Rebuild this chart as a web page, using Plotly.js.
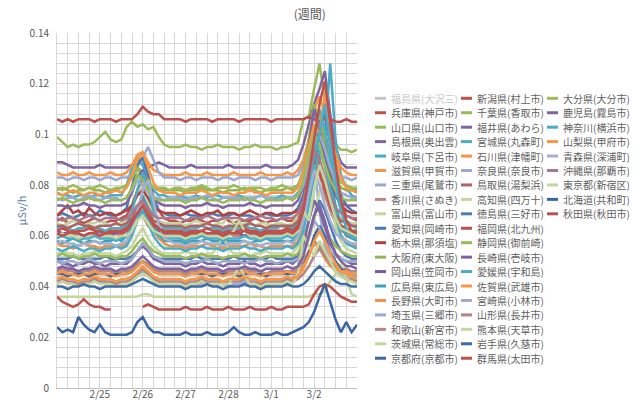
<!DOCTYPE html>
<html><head><meta charset="utf-8">
<script src="https://cdn.plot.ly/plotly-3.0.1.min.js"></script>
<style>html,body{margin:0;padding:0;background:#fff}#chart{width:640px;height:400px}</style>
</head><body><div id="chart"></div>
<script>
// hours since 2/24 00:00 (3-hourly readings)
const hours = [0,3,6,9,12,15,18,21,24,27,30,33,36,39,42,45,48,51,54,57,60,63,66,69,72,75,78,81,84,87,90,93,96,99,102,105,108,111,114,117,120,123,126,129,132,135,138,141,144,147,150,153,156,159,162,165,168];
const tickHours = [24,48,72,96,120,144];
const tickLabels = ['2/25','2/26','2/27','2/28','3/1','3/2'];

const names = ['福島県(大沢三)','兵庫県(神戸市)','山口県(山口市)','島根県(奥出雲)','岐阜県(下呂市)','滋賀県(甲賀市)','三重県(尾鷲市)','香川県(さぬき)','富山県(富山市)','愛知県(岡崎市)','栃木県(那須塩)','大阪府(東大阪)','岡山県(笠岡市)','広島県(東広島)','長野県(大町市)','埼玉県(三郷市)','和歌山(新宮市)','茨城県(常総市)','京都府(京都市)','新潟県(村上市)','千葉県(香取市)','福井県(あわら)','宮城県(丸森町)','石川県(津幡町)','奈良県(奈良市)','鳥取県(湯梨浜)','高知県(四万十)','徳島県(三好市)','福岡県(北九州)','静岡県(御前崎)','長崎県(壱岐市)','愛媛県(宇和島)','佐賀県(武雄市)','宮崎県(小林市)','山形県(長井市)','熊本県(天草市)','岩手県(久慈市)','群馬県(太田市)','大分県(大分市)','鹿児島(霧島市)','神奈川(横浜市)','山梨県(甲府市)','青森県(深浦町)','沖縄県(那覇市)','東京都(新宿区)','北海道(共和町)','秋田県(秋田市)'];

const colors = ['#C4C4C4','#C0504D','#9BBB59','#8064A2','#4BACC6','#F79646','#9AA8D4','#BE8584','#C3D69B','#4A78B0','#B0413E','#94B456','#765C9C','#40A0BA','#F0904A','#9BADD5','#B48684','#C3D69B','#41679A','#C0504D','#9BBB59','#8064A2','#4BACC6','#F79646','#9AAAD3','#B06362','#C3D69B','#4F7BB5','#C0504D','#9BBB59','#8064A2','#4BACC6','#F79646','#9CABC9','#B28685','#C3D69B','#3F6CA5','#C0504D','#9BBB59','#8064A2','#4BACC6','#F79646','#A3B0D2','#A67A8C','#C3D69B','#3A64A8','#C0504D'];

// μSv/h readings
const fukushima = null; // series hidden in the chart (greyed legend entry)
const hyogo = [.066,.067,.065,.066,.066,.065,.066,.067,.066,.065,.066,.066,.067,
.068,.072,.078,.083,.080,.074,.070,.067,.066,
.066,.065,.066,.066,.067,.066,.065,.066,.066,.067,.066,.065,.066,.066,.066,.067,.066,.065,.066,.066,.067,.066,.066,
.068,.075,.088,.100,.108,.098,.088,.078,.072,.068,.067,
.066];
const yamaguchi = [.099,.097,.095,.096,.095,.096,.096,.097,.099,.101,.098,.097,.098,
.103,.105,.103,.104,.102,.103,.099,.096,.095,
.095,.095,.096,.095,.095,.094,.095,.095,.096,.095,.095,.095,.094,.095,.095,.096,.095,.095,.095,.094,.095,.095,.096,
.097,.106,.107,.118,.128,.113,.100,.096,.094,.094,.093,
.094];
const shimane = [.089,.089,.088,.087,.087,.087,.087,.087,.088,.087,.087,.087,.087,
.087,.088,.090,.088,.087,.088,.089,.088,.087,
.087,.087,.087,.088,.087,.087,.087,.087,.087,.087,.088,.087,.087,.087,.087,.087,.087,.088,.087,.087,.087,.087,.088,
.090,.096,.104,.112,.118,.125,.108,.095,.089,.087,.087,
.087];
const gifu = [.077,.076,.076,.075,.076,.076,.075,.076,.076,.075,.076,.076,.076,
.080,.087,.091,.088,.082,.078,.076,.076,.075,
.075,.076,.075,.075,.076,.075,.075,.076,.076,.075,.075,.075,.076,.075,.075,.075,.076,.075,.075,.075,.076,.075,.075,
.077,.080,.088,.095,.090,.098,.128,.098,.084,.079,.076,
.075];
const shiga = [.085,.084,.084,.085,.084,.084,.085,.084,.084,.084,.085,.084,.084,
.085,.088,.092,.093,.089,.086,.085,.084,.084,
.084,.084,.085,.084,.084,.084,.085,.084,.084,.084,.084,.085,.084,.084,.084,.084,.085,.084,.084,.084,.084,.085,.084,
.086,.090,.098,.110,.115,.108,.100,.092,.087,.085,.084,
.084];
const mie = [.083,.083,.082,.083,.083,.082,.083,.083,.082,.083,.083,.082,.083,
.083,.084,.087,.091,.095,.090,.085,.083,.083,
.083,.082,.083,.083,.082,.083,.083,.083,.082,.083,.083,.082,.083,.083,.083,.082,.083,.083,.082,.083,.083,.083,.083,
.084,.088,.095,.102,.098,.092,.088,.085,.083,.083,.082,
.083];
const kagawa = [.060,.061,.060,.060,.061,.060,.060,.060,.061,.060,.060,.061,.060,
.062,.065,.069,.068,.064,.062,.061,.060,.060,
.060,.060,.061,.060,.060,.060,.061,.060,.060,.060,.061,.060,.060,.060,.060,.061,.060,.060,.060,.060,.061,.060,.060,
.062,.068,.078,.090,.084,.076,.070,.065,.062,.061,.060,
.060];
const toyama = [.065,.064,.065,.066,.065,.064,.065,.065,.066,.065,.064,.065,.065,
.066,.070,.076,.080,.074,.068,.066,.065,.065,
.065,.065,.064,.065,.066,.065,.065,.064,.065,.065,.068,.065,.064,.065,.065,.064,.065,.065,.064,.065,.065,.064,.065,
.068,.078,.098,.110,.096,.085,.076,.070,.067,.066,.065,
.065];
const aichi = [.068,.069,.068,.067,.068,.069,.068,.068,.070,.069,.068,.068,.069,
.071,.079,.088,.091,.084,.075,.070,.069,.068,
.068,.068,.069,.068,.068,.067,.068,.069,.068,.068,.068,.069,.068,.068,.068,.067,.068,.069,.068,.068,.068,.068,.069,
.071,.076,.086,.094,.102,.108,.096,.084,.076,.072,.070,
.069];
const tochigi = [.068,.070,.072,.069,.070,.068,.071,.069,.068,.069,.069,.068,.069,
.070,.072,.076,.078,.075,.071,.070,.069,.069,
.069,.068,.069,.070,.069,.068,.069,.069,.070,.068,.069,.069,.068,.069,.070,.069,.068,.069,.069,.068,.069,.069,.069,
.070,.073,.082,.092,.098,.092,.084,.076,.072,.070,.069,
.069];
const osaka = [.078,.079,.078,.077,.078,.078,.079,.078,.078,.077,.078,.078,.079,
.080,.084,.087,.085,.082,.079,.078,.078,.078,
.078,.078,.077,.078,.078,.079,.078,.078,.078,.077,.078,.078,.078,.079,.078,.078,.077,.078,.078,.078,.078,.079,.078,
.080,.086,.098,.112,.105,.095,.088,.082,.079,.078,.078,
.078];
const okayama = [.062,.061,.061,.062,.061,.060,.061,.061,.062,.061,.061,.061,.062,
.063,.066,.071,.069,.066,.063,.062,.061,.061,
.061,.061,.062,.061,.061,.060,.061,.061,.061,.062,.061,.061,.061,.060,.061,.061,.062,.061,.061,.061,.060,.061,.061,
.064,.074,.088,.098,.090,.080,.072,.066,.063,.062,.061,
.061];
const hiroshima = [.058,.057,.058,.059,.058,.057,.058,.058,.057,.058,.058,.059,.058,
.060,.064,.070,.076,.071,.064,.060,.058,.058,
.058,.058,.057,.058,.058,.058,.059,.058,.058,.057,.058,.058,.058,.058,.057,.058,.058,.059,.058,.058,.058,.058,.058,
.060,.066,.076,.088,.098,.092,.082,.072,.064,.060,.059,
.058];
const nagano = [.057,.056,.056,.055,.056,.057,.056,.056,.055,.056,.056,.056,.056,
.057,.061,.066,.070,.066,.062,.059,.057,.056,
.056,.056,.055,.056,.056,.056,.057,.056,.056,.055,.056,.056,.056,.056,.057,.056,.056,.055,.056,.056,.056,.056,.056,
.058,.064,.074,.084,.090,.082,.074,.066,.060,.058,.057,
.056];
const saitama = [.051,.050,.048,.047,.046,.045,.044,.043,.042,.042,.041,.041,.041,
.041,.042,.044,.046,.045,.043,.042,.041,.041,
.041,.041,.040,.041,.041,.041,.042,.041,.041,.041,.040,.041,.041,.042,.041,.041,.041,.040,.041,.041,.041,.042,.043,
.048,.062,.078,.088,.070,.056,.050,.047,.045,.044,.044,
.044];
const wakayama = [.046,.047,.046,.046,.045,.046,.046,.047,.046,.046,.046,.045,.046,
.046,.047,.049,.050,.049,.047,.046,.046,.046,
.046,.046,.045,.046,.046,.047,.046,.046,.046,.045,.046,.046,.046,.047,.046,.046,.046,.045,.046,.046,.046,.046,.046,
.047,.050,.054,.058,.056,.053,.050,.048,.047,.047,.046,
.046];
const ibaraki = [.036,.036,.036,.036,.036,.036,.036,.036,.036,.036,.036,.036,.036,
.036,.036,.036,.037,.037,.036,.036,.036,.036,
.036,.036,.036,.036,.036,.036,.036,.036,.036,.036,.036,.036,.036,.036,.036,.036,.036,.036,.036,.036,.036,.036,.036,
.036,.036,.036,.037,.037,.038,.042,.045,.049,.043,.037,
.036];
const kyoto = [.045,.045,.044,.045,.045,.045,.044,.045,.045,.045,.044,.045,.045,
.045,.046,.048,.050,.048,.046,.045,.045,.045,
.045,.045,.044,.045,.045,.045,.045,.044,.045,.045,.045,.045,.044,.045,.045,.045,.045,.044,.045,.045,.045,.045,.045,
.046,.048,.053,.060,.064,.060,.054,.050,.047,.046,.045,
.045];
const niigata = [.106,.105,.106,.105,.106,.106,.106,.105,.106,.106,.106,.105,.106,
.106,.106,.108,.111,.109,.108,.108,.106,.106,
.106,.106,.105,.106,.106,.106,.106,.105,.106,.106,.106,.106,.105,.106,.106,.106,.106,.106,.105,.106,.106,.106,.106,
.106,.106,.107,.106,.105,.106,.106,.105,.105,.106,.105,
.105];
const chiba = [.079,.078,.079,.080,.079,.078,.079,.079,.080,.079,.078,.079,.079,
.080,.083,.086,.084,.081,.079,.079,.079,.078,
.079,.079,.078,.079,.079,.080,.079,.078,.079,.079,.079,.080,.079,.078,.079,.079,.079,.078,.079,.079,.080,.079,.079,
.080,.084,.092,.100,.108,.100,.092,.085,.081,.080,.079,
.079];
const fukui = [.072,.072,.071,.072,.072,.073,.072,.072,.071,.072,.072,.072,.072,
.073,.077,.083,.086,.080,.075,.073,.072,.072,
.072,.072,.071,.072,.072,.072,.073,.072,.072,.071,.072,.072,.072,.072,.073,.072,.072,.071,.072,.072,.072,.072,.072,
.074,.080,.095,.110,.102,.090,.082,.076,.073,.072,.072,
.072];
const miyagi = [.063,.064,.063,.062,.063,.063,.064,.063,.063,.062,.063,.063,.063,
.064,.070,.078,.085,.079,.070,.065,.063,.063,
.063,.063,.062,.063,.063,.064,.063,.063,.063,.062,.063,.063,.063,.064,.063,.063,.062,.063,.063,.063,.064,.063,.063,
.065,.072,.085,.098,.110,.102,.090,.078,.070,.066,.064,
.063];
const ishikawa = [.077,.076,.077,.078,.077,.076,.077,.077,.076,.077,.077,.078,.077,
.079,.084,.090,.093,.087,.081,.078,.077,.077,
.077,.076,.077,.077,.077,.078,.077,.076,.077,.077,.077,.076,.077,.077,.078,.077,.077,.076,.077,.077,.077,.077,.077,
.079,.085,.095,.104,.100,.116,.102,.090,.083,.079,.078,
.077];
const nara = [.075,.074,.075,.075,.074,.075,.076,.075,.074,.075,.075,.075,.074,
.075,.078,.082,.080,.077,.075,.075,.074,.075,
.075,.075,.074,.075,.075,.075,.076,.075,.074,.075,.075,.075,.075,.074,.075,.075,.076,.075,.075,.074,.075,.075,.075,
.076,.080,.088,.096,.100,.094,.087,.081,.077,.076,.075,
.075];
const tottori = [.064,.064,.063,.064,.065,.064,.064,.063,.064,.064,.064,.065,.064,
.065,.067,.071,.074,.070,.066,.065,.064,.064,
.064,.064,.063,.064,.064,.064,.065,.064,.064,.063,.064,.064,.064,.064,.065,.064,.064,.063,.064,.064,.064,.064,.064,
.066,.072,.084,.094,.088,.080,.073,.068,.066,.065,.064,
.064];
const kochi = [.053,.054,.053,.053,.052,.053,.053,.054,.053,.053,.053,.052,.053,
.054,.056,.060,.063,.059,.056,.054,.053,.053,
.053,.053,.054,.053,.053,.052,.053,.053,.056,.060,.055,.053,.053,.053,.052,.053,.053,.054,.053,.053,.053,.053,.053,
.056,.062,.058,.066,.078,.086,.074,.064,.058,.055,.054,
.053];
const tokushima = [.051,.051,.051,.052,.051,.051,.051,.051,.051,.052,.051,.051,.051,
.051,.052,.054,.057,.055,.052,.051,.051,.051,
.051,.051,.051,.051,.052,.051,.051,.051,.051,.051,.051,.052,.051,.051,.051,.051,.051,.051,.052,.051,.051,.051,.051,
.052,.054,.060,.068,.074,.070,.064,.058,.054,.052,.051,
.051];
const fukuoka = [.062,.063,.062,.061,.062,.062,.063,.062,.062,.061,.062,.062,.062,
.063,.065,.068,.070,.067,.064,.063,.062,.062,
.062,.062,.061,.062,.062,.062,.063,.062,.062,.061,.062,.062,.062,.063,.062,.062,.061,.062,.062,.062,.062,.063,.062,
.064,.070,.080,.090,.085,.078,.072,.067,.064,.063,.062,
.062];
const shizuoka = [.052,.053,.052,.052,.051,.052,.052,.053,.052,.052,.052,.051,.052,
.052,.054,.057,.059,.056,.054,.053,.052,.052,
.052,.052,.051,.052,.052,.053,.052,.052,.052,.051,.052,.052,.052,.053,.052,.052,.051,.052,.052,.052,.052,.053,.052,
.053,.058,.066,.074,.070,.064,.059,.056,.054,.053,.052,
.052];
const nagasaki = [.050,.049,.049,.048,.049,.049,.050,.049,.049,.048,.049,.049,.049,
.049,.051,.054,.056,.054,.051,.050,.049,.049,
.049,.049,.048,.049,.049,.050,.049,.049,.049,.048,.049,.049,.049,.050,.049,.049,.048,.049,.049,.049,.049,.050,.049,
.051,.056,.066,.074,.070,.063,.057,.053,.051,.050,.049,
.049];
const ehime = [.055,.054,.055,.056,.055,.054,.055,.055,.054,.055,.055,.056,.055,
.056,.060,.066,.070,.065,.060,.057,.055,.055,
.055,.055,.054,.055,.055,.056,.055,.055,.055,.054,.055,.055,.055,.056,.055,.055,.054,.055,.055,.055,.055,.056,.055,
.057,.062,.072,.084,.094,.088,.078,.068,.060,.057,.056,
.055];
const saga = [.045,.046,.045,.045,.044,.045,.045,.046,.045,.045,.045,.044,.045,
.045,.046,.048,.050,.048,.046,.045,.045,.045,
.045,.045,.044,.045,.045,.046,.045,.045,.045,.044,.045,.045,.045,.046,.045,.045,.044,.045,.045,.045,.045,.046,.045,
.046,.048,.052,.057,.055,.051,.048,.047,.046,.046,.045,
.045];
const miyazaki = [.050,.049,.050,.050,.049,.050,.051,.050,.049,.050,.050,.050,.049,
.050,.051,.054,.057,.055,.052,.051,.050,.050,
.050,.050,.049,.050,.050,.050,.051,.050,.049,.050,.050,.050,.050,.049,.050,.050,.051,.050,.050,.049,.050,.050,.050,
.051,.054,.060,.066,.063,.058,.054,.052,.051,.050,.050,
.050];
const yamagata = [.042,.043,.042,.042,.041,.042,.042,.043,.042,.042,.042,.041,.042,
.042,.043,.045,.047,.045,.043,.042,.042,.042,
.042,.042,.041,.042,.042,.043,.042,.042,.042,.041,.042,.042,.042,.043,.042,.042,.041,.042,.042,.042,.042,.043,.042,
.043,.045,.048,.052,.055,.052,.049,.046,.044,.043,.043,
.042];
const kumamoto = [.041,.042,.041,.041,.040,.041,.041,.042,.041,.041,.041,.040,.041,
.041,.042,.044,.045,.044,.042,.041,.041,.041,
.041,.041,.040,.041,.041,.042,.041,.041,.041,.041,.041,.044,.048,.044,.041,.041,.040,.041,.041,.041,.041,.042,.041,
.045,.060,.056,.052,.058,.054,.050,.046,.044,.043,.042,
.041];
const iwate = [.040,.040,.039,.040,.040,.041,.040,.040,.039,.040,.040,.040,.040,
.040,.041,.042,.043,.042,.041,.040,.040,.040,
.040,.040,.039,.040,.040,.040,.041,.040,.040,.039,.040,.040,.040,.041,.040,.040,.039,.040,.040,.040,.040,.041,.040,
.040,.041,.043,.046,.048,.046,.044,.042,.041,.041,.040,
.040];
const gunma = [.036,.034,.033,.032,.033,.035,.033,.032,.032,.031,.031,null,null,
null,null,null,.032,.033,.032,.031,.031,.031,
.031,.031,.032,.031,.031,.031,.032,.031,.031,.031,.032,.031,.031,.031,.032,.031,.031,.031,.032,.031,.031,.032,.032,
.032,.032,.033,.037,.040,.041,.040,.038,.036,.035,.034,
.034];
const oita = [.074,.075,.074,.073,.074,.074,.075,.074,.074,.073,.074,.074,.074,
.075,.079,.084,.082,.078,.075,.074,.074,.074,
.074,.074,.073,.074,.074,.075,.074,.074,.074,.073,.074,.074,.074,.075,.074,.074,.073,.074,.074,.074,.074,.075,.074,
.076,.082,.092,.100,.096,.088,.082,.078,.075,.074,.074,
.074];
const kagoshima = [.047,.048,.047,.047,.046,.047,.047,.048,.047,.047,.047,.046,.047,
.047,.048,.050,.052,.050,.048,.047,.047,.047,
.047,.047,.046,.047,.047,.048,.047,.047,.047,.046,.047,.047,.047,.048,.047,.047,.046,.047,.047,.047,.047,.048,.047,
.048,.052,.060,.068,.072,.066,.058,.053,.050,.048,.048,
.047];
const kanagawa = [.059,.060,.059,.059,.058,.059,.059,.060,.059,.059,.059,.058,.059,
.060,.063,.067,.070,.066,.062,.060,.059,.059,
.059,.059,.058,.059,.059,.060,.059,.059,.059,.058,.059,.059,.059,.060,.059,.059,.058,.059,.059,.059,.059,.060,.059,
.061,.066,.078,.092,.100,.112,.096,.082,.070,.063,.060,
.059];
const yamanashi = [.043,.044,.043,.043,.042,.043,.043,.044,.043,.043,.043,.042,.043,
.043,.044,.046,.048,.046,.044,.043,.043,.043,
.043,.043,.042,.043,.043,.044,.043,.043,.043,.042,.043,.043,.043,.044,.043,.043,.042,.043,.043,.043,.043,.044,.043,
.044,.047,.052,.058,.062,.058,.053,.049,.046,.045,.044,
.043];
const aomori = [.057,.058,.057,.057,.056,.057,.057,.058,.057,.057,.057,.056,.057,
.058,.062,.070,.078,.082,.074,.064,.059,.058,
.057,.057,.056,.057,.057,.058,.057,.057,.057,.056,.057,.057,.057,.058,.057,.057,.056,.057,.057,.057,.057,.058,.057,
.060,.066,.076,.086,.080,.072,.066,.061,.059,.058,.057,
.057];
const okinawa = [.067,.066,.067,.067,.066,.067,.068,.067,.066,.067,.067,.067,.066,
.067,.069,.072,.074,.071,.068,.067,.067,.067,
.067,.067,.066,.067,.067,.067,.068,.067,.066,.067,.067,.067,.067,.066,.067,.067,.068,.067,.067,.066,.067,.067,.067,
.069,.074,.084,.094,.090,.083,.076,.071,.069,.068,.067,
.067];
const tokyo = [.060,.061,.060,.060,.059,.060,.060,.061,.060,.060,.060,.059,.060,
.060,.062,.066,.068,.065,.062,.061,.060,.060,
.060,.060,.059,.060,.060,.061,.060,.060,.060,.059,.060,.062,.066,.062,.060,.060,.059,.060,.060,.060,.060,.061,.060,
.062,.070,.066,.078,.088,.082,.074,.067,.063,.062,.061,
.060];
const hokkaido = [.024,.022,.023,.022,.028,.025,.023,.022,.025,.022,.021,.021,.021,
.021,.022,.026,.028,.024,.022,.022,.021,.021,
.021,.021,.022,.021,.021,.021,.022,.021,.021,.021,.022,.024,.022,.021,.021,.022,.021,.021,.021,.022,.021,.021,.022,
.023,.024,.026,.030,.036,.041,.034,.027,.022,.026,.022,
.025];
const akita = [.061,.060,.061,.062,.061,.060,.061,.061,.060,.061,.061,.062,.061,
.062,.065,.069,.072,.068,.065,.063,.061,.061,
.061,.061,.060,.061,.061,.062,.061,.061,.061,.060,.061,.061,.061,.062,.061,.061,.060,.061,.061,.061,.061,.062,.061,
.063,.070,.084,.098,.112,.121,.104,.088,.074,.066,.062,
.061];

const seriesValues = [fukushima,hyogo,yamaguchi,shimane,gifu,shiga,mie,kagawa,toyama,aichi,tochigi,osaka,okayama,hiroshima,nagano,saitama,wakayama,ibaraki,kyoto,niigata,chiba,fukui,miyagi,ishikawa,nara,tottori,kochi,tokushima,fukuoka,shizuoka,nagasaki,ehime,saga,miyazaki,yamagata,kumamoto,iwate,gunma,oita,kagoshima,kanagawa,yamanashi,aomori,okinawa,tokyo,hokkaido,akita];

// ---- figure ----
const PL = 57, PR = 357, PT = 33, PB = 388;            // plot area in px
const fx = X => (X - PL) / (PR - PL);
const fy = Y => (PB - Y) / (PB - PT);

const traces = [];
seriesValues.forEach((vals, i) => {
  if (!vals) return;
  if (vals.length !== hours.length) console.error('length mismatch', names[i], vals.length);
  traces.push({
    type: 'scatter', mode: 'lines', x: hours, y: vals, name: names[i],
    line: {color: colors[i], width: 2.5}, connectgaps: false, hoverinfo: 'skip', showlegend: false
  });
});

// legend, three columns filled top-to-bottom
const legCols = [375, 461, 547], legRow0 = 98.3, legRowH = 14.44, legRows = 19;
const shapes = [], annotations = [];
names.forEach((nm, i) => {
  const c = Math.floor(i / legRows), r = i % legRows;
  const X = legCols[c], Y = legRow0 + r * legRowH;
  shapes.push({type: 'line', xref: 'paper', yref: 'paper', x0: fx(X), x1: fx(X + 11), y0: fy(Y), y1: fy(Y),
    line: {color: colors[i], width: 3}});
  annotations.push({xref: 'paper', yref: 'paper', x: fx(X + 14), y: fy(Y), xanchor: 'left', yanchor: 'middle',
    showarrow: false, text: nm, font: {size: 10, color: seriesValues[i] ? '#5f5f5f' : '#C8C8C8'}});
});

const grid = '#d6d6d6';
const layout = {
  width: 640, height: 400,
  margin: {l: PL, r: 640 - PR, t: PT, b: 400 - PB},
  paper_bgcolor: '#ffffff', plot_bgcolor: '#ffffff',
  showlegend: false,
  font: {family: '"Noto Sans CJK JP", "Noto Sans", sans-serif', size: 10, color: '#595959'},
  title: {text: '(週間)', xref: 'container', yref: 'container', x: 0.484, y: 0.962,
    xanchor: 'center', yanchor: 'middle', font: {size: 12, color: '#595959'}},
  xaxis: {range: [0, 168], tickvals: tickHours, ticktext: tickLabels, tickmode: 'array',
    showgrid: true, gridcolor: grid, gridwidth: 1, zeroline: false,
    minor: {tickmode: 'linear', tick0: 0, dtick: 6, showgrid: true, gridcolor: grid, gridwidth: 1},
    showline: true, linecolor: '#bfbfbf', linewidth: 1, ticks: '', ticklabelstandoff: -3,
    tickfont: {size: 10, color: '#595959'}},
  yaxis: {range: [0, 0.14], tick0: 0, dtick: 0.02, showgrid: true, gridcolor: grid, gridwidth: 1, zeroline: false,
    minor: {tick0: 0, dtick: 0.004, showgrid: true, gridcolor: grid, gridwidth: 1},
    showline: true, linecolor: grid, ticks: 'outside', ticklen: 5, tickcolor: 'rgba(0,0,0,0)',
    tickfont: {size: 10, color: '#595959'},
    title: {text: 'μSv/h', font: {size: 11, color: '#5a7ca8'}, standoff: 0}},
  shapes: shapes, annotations: annotations
};

Plotly.newPlot('chart', traces, layout, {displayModeBar: false, staticPlot: true});
</script></body></html>
